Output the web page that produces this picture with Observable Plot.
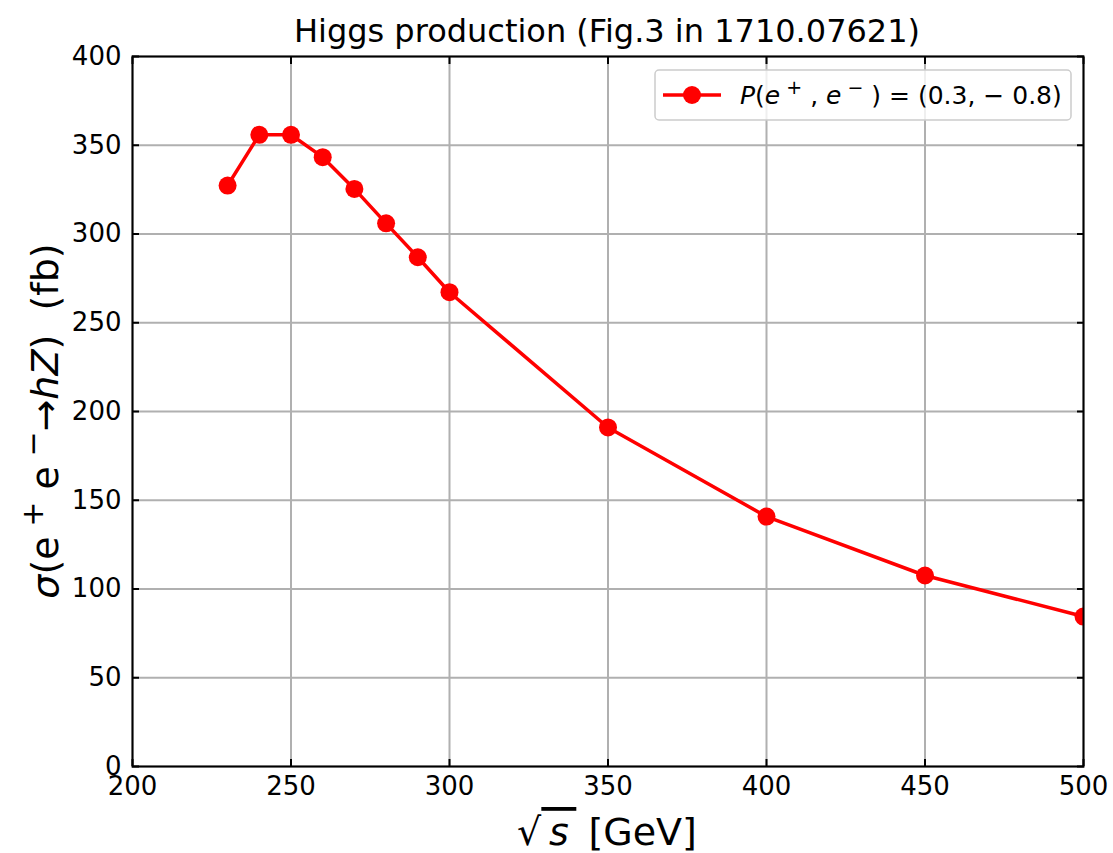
<!DOCTYPE html>
<html><head><meta charset="utf-8">
<script src="https://cdn.jsdelivr.net/npm/d3@7"></script>
<script src="https://cdn.jsdelivr.net/npm/@observablehq/plot@0.6"></script>
<style>body{margin:0;background:#fff} svg{display:block}</style>
</head><body><div id="chart"></div>
<script>
const energies = [230, 240, 250, 260, 270, 280, 290, 300, 350, 400, 450, 500];
const xsec = [327.3, 355.9, 355.9, 343.3, 325.4, 306.0, 286.9, 267.2, 191.0, 140.8, 107.6, 84.5];
const xTicks = [200, 250, 300, 350, 400, 450, 500];
const yTicks = [0, 50, 100, 150, 200, 250, 300, 350, 400];
const titleText = "Higgs production (Fig.3 in 1710.07621)";
const xLabelText = "√s [GeV]";
const yLabelText = "σ(e⁺e⁻→hZ) (fb)";
const seriesLabel = "P(e⁺, e⁻) = (0.3, −0.8)";

const data = energies.map((e, i) => ({energy: e, xsec: xsec[i]}));
const FONT = "DejaVu Sans";
const tickFont = 26;

const plot = Plot.plot({
  width: 1113, height: 853,
  marginLeft: 132, marginRight: 30, marginTop: 56, marginBottom: 87,
  style: {fontFamily: FONT, fontSize: tickFont + "px", background: "#fff", color: "#000", overflow: "visible"},
  x: {domain: [200, 500]},
  y: {domain: [0, 400]},
  marks: [
    Plot.gridX(xTicks, {stroke: "#b0b0b0", strokeOpacity: 1, strokeWidth: 2}),
    Plot.gridY(yTicks, {stroke: "#b0b0b0", strokeOpacity: 1, strokeWidth: 2}),
    Plot.line(data, {x: "energy", y: "xsec", stroke: "red", strokeWidth: 3.5, clip: true}),
    Plot.dot(data, {x: "energy", y: "xsec", r: 9, fill: "red", stroke: null, clip: true}),
    Plot.frame({stroke: "black", strokeWidth: 2}),
    Plot.axisX(xTicks, {anchor: "bottom", tickSize: 0, tickPadding: 10, label: null, fontSize: tickFont}),
    Plot.axisX(xTicks, {anchor: "bottom", tickSize: -7, text: null, label: null, strokeWidth: 2}),
    Plot.axisX(xTicks, {anchor: "top", tickSize: -7, text: null, label: null, strokeWidth: 2}),
    Plot.axisY(yTicks, {anchor: "left", tickSize: 0, tickPadding: 11, label: null, fontSize: tickFont}),
    Plot.axisY(yTicks, {anchor: "left", tickSize: -7, text: null, label: null, strokeWidth: 2}),
    Plot.axisY(yTicks, {anchor: "right", tickSize: -7, text: null, label: null, strokeWidth: 2})
  ]
});

const svg = d3.select(plot);
// Title
svg.append("text").attr("x", 607).attr("y", 42).attr("text-anchor", "middle")
  .attr("font-family", FONT).attr("font-size", 32).attr("fill", "#000").text(titleText);
// X label
const xl = svg.append("text").attr("x", 607).attr("y", 845).attr("text-anchor", "middle")
  .attr("font-family", FONT).attr("font-size", 38).attr("fill", "#000");
xl.append("tspan").text("√");
xl.append("tspan").attr("font-style", "italic").attr("text-decoration", "overline").text("\u2009s\u2009");
xl.append("tspan").text(" [GeV]");
// Y label
const yl = svg.append("text").attr("transform", "translate(58,421) rotate(-90)").attr("text-anchor", "middle")
  .attr("font-family", FONT).attr("font-size", 38).attr("fill", "#000");
yl.append("tspan").attr("font-style", "italic").text("σ");
yl.append("tspan").text("(e");
yl.append("tspan").attr("font-size", 30).attr("dy", -15).text(" +");
yl.append("tspan").attr("dy", 15).text(" e");
yl.append("tspan").attr("font-size", 30).attr("dy", -15).text(" −");
yl.append("tspan").attr("dy", 15).text("→");
yl.append("tspan").attr("font-style", "italic").text("hZ");
yl.append("tspan").text(")  (fb)");
// Legend
const lg = svg.append("g").attr("font-family", FONT).attr("text-anchor", "start");
lg.append("rect").attr("x", 655).attr("y", 70).attr("width", 416).attr("height", 50).attr("rx", 4)
  .attr("fill", "#fff").attr("fill-opacity", 0.8).attr("stroke", "#ccc").attr("stroke-width", 1.5);
lg.append("line").attr("x1", 663).attr("x2", 721).attr("y1", 95).attr("y2", 95).attr("stroke", "red").attr("stroke-width", 3.5);
lg.append("circle").attr("cx", 692).attr("cy", 95).attr("r", 9).attr("fill", "red");
const lt = lg.append("text").attr("x", 740).attr("y", 104).attr("font-size", 25).attr("fill", "#000").attr("text-anchor", "start");
lt.append("tspan").attr("font-style", "italic").text("P");
lt.append("tspan").text("(");
lt.append("tspan").attr("font-style", "italic").text("e");
lt.append("tspan").attr("font-size", 19).attr("dy", -10).text(" +");
lt.append("tspan").attr("dy", 10).text(" , ");
lt.append("tspan").attr("font-style", "italic").text("e");
lt.append("tspan").attr("font-size", 19).attr("dy", -10).text(" −");
lt.append("tspan").attr("dy", 10).text(" ) = (0.3, − 0.8)");

document.getElementById("chart").append(plot);
</script>
</body></html>
